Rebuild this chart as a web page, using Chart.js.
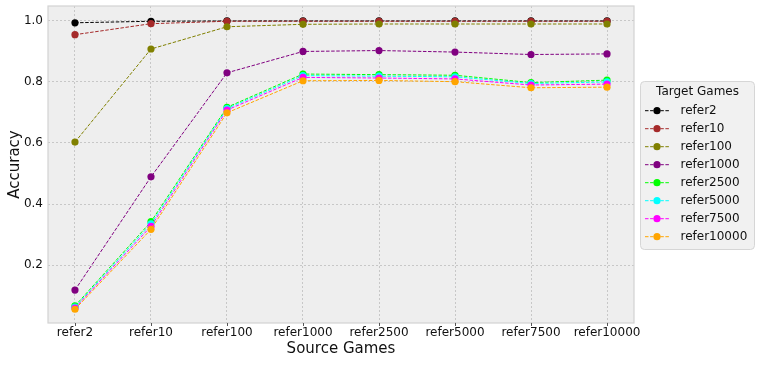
<!DOCTYPE html>
<html><head><meta charset="utf-8">
<script src="https://cdn.jsdelivr.net/npm/chart.js@4"></script>
<style>html,body{margin:0;padding:0;background:#fff}#wrap{width:761px;height:365px}</style>
</head><body><div id="wrap"><canvas id="c" width="761" height="365"></canvas></div>
<script>
const sourceGames = ['refer2','refer10','refer100','refer1000','refer2500','refer5000','refer7500','refer10000'];
const targetGames = ['refer2','refer10','refer100','refer1000','refer2500','refer5000','refer7500','refer10000'];
const seriesColors = ['#000000','#a52a2a','#808000','#800080','#00ff00','#00ffff','#ff00ff','#ffa500'];
const accRefer2     = [0.994, 0.999, 1.000, 1.000, 1.000, 1.000, 1.000, 1.000];
const accRefer10    = [0.955, 0.991, 0.999, 0.999, 0.999, 0.999, 0.999, 0.999];
const accRefer100   = [0.603, 0.908, 0.981, 0.989, 0.990, 0.990, 0.990, 0.990];
const accRefer1000  = [0.118, 0.489, 0.830, 0.900, 0.903, 0.898, 0.890, 0.892];
const accRefer2500  = [0.066, 0.342, 0.717, 0.826, 0.824, 0.822, 0.798, 0.806];
const accRefer5000  = [0.062, 0.335, 0.713, 0.821, 0.819, 0.817, 0.795, 0.800];
const accRefer7500  = [0.059, 0.327, 0.708, 0.815, 0.813, 0.810, 0.790, 0.793];
const accRefer10000 = [0.055, 0.317, 0.699, 0.804, 0.805, 0.801, 0.781, 0.783];
const yTicks = [0.2, 0.4, 0.6, 0.8, 1.0];
const seriesValues = [accRefer2, accRefer10, accRefer100, accRefer1000, accRefer2500, accRefer5000, accRefer7500, accRefer10000];

const FONT = "'DejaVu Sans', sans-serif";

const datasets = targetGames.map((name, i) => ({
  label: name,
  data: seriesValues[i].map((v, j) => ({x: j, y: v})),
  borderColor: seriesColors[i],
  backgroundColor: seriesColors[i],
  pointBackgroundColor: seriesColors[i],
  pointBorderColor: seriesColors[i],
  pointRadius: 3.6,
  pointBorderWidth: 0,
  borderWidth: 1,
  borderDash: [3.5, 1.6],
  tension: 0,
  order: targetGames.length - 1 - i
}));

const bgPlugin = {
  id: 'bg',
  beforeDraw(chart) {
    const {ctx, chartArea: a} = chart;
    ctx.save();
    ctx.fillStyle = '#ffffff';
    ctx.fillRect(0, 0, chart.width, chart.height);
    ctx.fillStyle = '#eeeeee';
    ctx.fillRect(a.left, a.top, a.right - a.left, a.bottom - a.top);
    ctx.restore();
  },
  beforeDatasetsDraw(chart) {
    const {ctx, chartArea: a} = chart;
    ctx.save();
    ctx.strokeStyle = '#d2d2d2';
    ctx.lineWidth = 1.2;
    ctx.strokeRect(a.left, a.top, a.right - a.left, a.bottom - a.top);
    const xs = chart.scales.x;
    ctx.strokeStyle = '#555555';
    ctx.lineWidth = 1;
    xs.ticks.forEach(t => {
      const px = Math.round(xs.getPixelForValue(t.value)) + 0.5;
      ctx.beginPath(); ctx.moveTo(px, a.bottom); ctx.lineTo(px, a.bottom + 3); ctx.stroke();
    });
    ctx.restore();
  }
};

const legendPlugin = {
  id: 'customLegend',
  afterDraw(chart) {
    const {ctx} = chart;
    const x0 = 640.5, y0 = 81.5, w = 114, h = 168, r = 4;
    ctx.save();
    ctx.beginPath();
    ctx.moveTo(x0 + r, y0);
    ctx.lineTo(x0 + w - r, y0); ctx.quadraticCurveTo(x0 + w, y0, x0 + w, y0 + r);
    ctx.lineTo(x0 + w, y0 + h - r); ctx.quadraticCurveTo(x0 + w, y0 + h, x0 + w - r, y0 + h);
    ctx.lineTo(x0 + r, y0 + h); ctx.quadraticCurveTo(x0, y0 + h, x0, y0 + h - r);
    ctx.lineTo(x0, y0 + r); ctx.quadraticCurveTo(x0, y0, x0 + r, y0);
    ctx.closePath();
    ctx.fillStyle = '#f1f1f1';
    ctx.fill();
    ctx.strokeStyle = '#d6d6d6';
    ctx.lineWidth = 1;
    ctx.stroke();
    ctx.fillStyle = '#111111';
    ctx.font = '12px ' + FONT;
    ctx.textBaseline = 'middle';
    ctx.textAlign = 'center';
    ctx.fillText('Target Games', 697.5, 92);
    ctx.textAlign = 'left';
    chart.data.datasets.forEach((ds, i) => {
      const y = 110.7 + 18 * i;
      ctx.strokeStyle = ds.borderColor;
      ctx.lineWidth = 1;
      ctx.setLineDash([3.5, 1.6]);
      ctx.beginPath(); ctx.moveTo(645, y); ctx.lineTo(669, y); ctx.stroke();
      ctx.setLineDash([]);
      ctx.fillStyle = ds.borderColor;
      ctx.beginPath(); ctx.arc(657, y, 3.6, 0, Math.PI * 2); ctx.fill();
      ctx.fillStyle = '#111111';
      ctx.fillText(ds.label, 680.5, y);
    });
    ctx.restore();
  }
};

new Chart(document.getElementById('c'), {
  type: 'line',
  data: {datasets},
  options: {
    responsive: false,
    animation: false,
    devicePixelRatio: 1,
    layout: {padding: {top: 6, right: 127, left: 0, bottom: 0}},
    plugins: {legend: {display: false}, tooltip: {enabled: false}},
    scales: {
      x: {
        type: 'linear',
        min: -0.355, max: 7.355,
        afterBuildTicks: s => { s.ticks = sourceGames.map((_, i) => ({value: i})); },
        afterFit: s => { s.height = 42; s.paddingLeft = 0; s.paddingRight = 0; },
        ticks: {
          callback: v => sourceGames[v],
          font: {family: FONT, size: 12},
          color: '#111111',
          padding: 3,
          autoSkip: false,
          maxRotation: 0
        },
        grid: {color: '#bdbdbd', lineWidth: 0.8, drawTicks: false},
        border: {display: false, dash: [2, 2]},
        title: {display: true, text: 'Source Games', font: {family: FONT, size: 15}, color: '#111111', padding: {top: 0, bottom: 7}}
      },
      y: {
        type: 'linear',
        min: 0.01, max: 1.049,
        afterBuildTicks: s => { s.ticks = yTicks.map(v => ({value: v})); },
        afterFit: s => { s.width = 48; s.paddingTop = 0; s.paddingBottom = 0; },
        ticks: {
          callback: v => v.toFixed(1),
          font: {family: FONT, size: 12},
          color: '#111111',
          padding: 5
        },
        grid: {color: '#bdbdbd', lineWidth: 0.8, drawTicks: false},
        border: {display: false, dash: [2, 2]},
        title: {display: true, text: 'Accuracy', font: {family: FONT, size: 15}, color: '#111111', padding: {top: 6, bottom: 0}}
      }
    }
  },
  plugins: [bgPlugin, legendPlugin]
});
</script>
</body></html>
